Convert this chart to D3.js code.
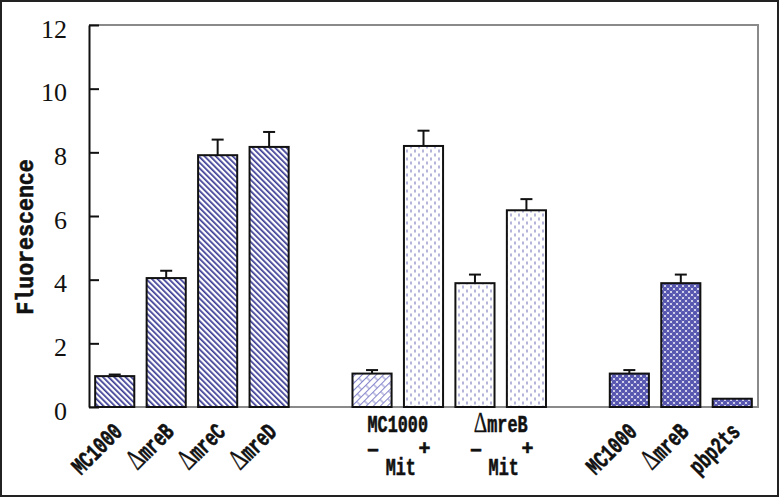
<!DOCTYPE html>
<html>
<head>
<meta charset="utf-8">
<script src="https://cdn.jsdelivr.net/npm/d3@7"></script>
<style>
body { margin: 0; background: #fff; }
svg { display: block; }
.lab { font-family: "Liberation Mono", "DejaVu Sans Mono", monospace; font-weight: bold; fill: #111; stroke: #111; stroke-width: 0.6px; }
.delta { font-family: "Liberation Serif", "DejaVu Serif", serif; font-weight: normal; stroke-width: 0.3px; }
.y.axis text { font-family: "Liberation Serif", "DejaVu Serif", serif; font-size: 26px; fill: #111; }
</style>
</head>
<body>
<div id="graph"></div>
<script>
// bars, left to right
const categories = ["MC1000", "ΔmreB", "ΔmreC", "ΔmreD",
	"MC1000 − Mit", "MC1000 + Mit", "ΔmreB − Mit", "ΔmreB + Mit",
	"MC1000 pbp", "ΔmreB pbp", "pbp2ts"];
const values = [0.97, 4.05, 7.91, 8.17, 1.05, 8.20, 3.89, 6.18, 1.05, 3.89, 0.26];
const errors = [0.05, 0.23, 0.49, 0.47, 0.11, 0.48, 0.27, 0.35, 0.11, 0.27, 0];
const groups = [0, 0, 0, 0, 1, 1, 1, 1, 2, 2, 2];
const fills = ["hatch", "hatch", "hatch", "hatch", "brick", "dash", "dash", "dash", "dots", "dots", "dots"];
// tick labels under the bars
const rotatedLabels = ["MC1000", "ΔmreB", "ΔmreC", "ΔmreD", null, null, null, null, "MC1000", "ΔmreB", "pbp2ts"];
const pairLabels = ["MC1000", "ΔmreB"];
const signs = ["−", "+"];
const treatment = "Mit";
const yTicks = [0, 2, 4, 6, 8, 10, 12];

const margin = {top: 25, right: 21, left: 89, bottom: 90};
const fullWidth = 779;
const fullHeight = 497;
const width = fullWidth - margin.left - margin.right;
const height = fullHeight - margin.top - margin.bottom;
const labelSize = "24px";
const squeeze = "scale(0.7,1)";

var root = d3.select("#graph")
	.append("svg")
	.attr("width", fullWidth)
	.attr("height", fullHeight);

// outer frame of the picture
root.append("rect")
	.attr("x", 1).attr("y", 1)
	.attr("width", fullWidth - 2).attr("height", fullHeight - 2)
	.attr("fill", "none").attr("stroke", "#222").attr("stroke-width", 2);

// fill patterns
var defs = root.append("defs");

var p = defs.append("pattern").attr("id", "hatch").attr("patternUnits", "userSpaceOnUse")
	.attr("width", 4).attr("height", 4).attr("patternTransform", "rotate(-45)");
p.append("rect").attr("width", 4).attr("height", 4).attr("fill", "#fff");
p.append("rect").attr("width", 1.7).attr("height", 4).attr("fill", "#3a3a94");

p = defs.append("pattern").attr("id", "brick").attr("patternUnits", "userSpaceOnUse")
	.attr("width", 12).attr("height", 10).attr("patternTransform", "rotate(-45)");
p.append("rect").attr("width", 12).attr("height", 10).attr("fill", "#fff");
p.append("path").attr("d", "M0,0.5H12M0,5.5H12M1,0.5V5.5M7,5.5V10")
	.attr("stroke", "#8686cc").attr("stroke-width", 1).attr("fill", "none");

p = defs.append("pattern").attr("id", "dash").attr("patternUnits", "userSpaceOnUse")
	.attr("width", 8).attr("height", 8);
p.append("rect").attr("width", 8).attr("height", 8).attr("fill", "#fff");
p.append("path").attr("d", "M2,0.5V3.5M6,4.5V7.5")
	.attr("stroke", "#8484c4").attr("stroke-width", 1.2);

p = defs.append("pattern").attr("id", "dots").attr("patternUnits", "userSpaceOnUse")
	.attr("width", 6).attr("height", 6);
p.append("rect").attr("width", 6).attr("height", 6).attr("fill", "#e6e6f6");
[[0, 0], [6, 0], [0, 6], [6, 6], [3, 3]].forEach(function (c) {
	p.append("circle").attr("cx", c[0]).attr("cy", c[1]).attr("r", 2.2).attr("fill", "#5656b0");
});

var svg = root.append("g")
	.attr("transform", "translate(" + margin.left + "," + margin.top + ")");

// 13 slots: 11 bars plus two empty gaps between the groups
var xScale = d3.scaleBand()
	.domain(d3.range(categories.length + 2))
	.range([0, width])
	.paddingInner(0.24)
	.paddingOuter(0.12);
var slot = (i) => xScale(i + groups[i]);
var bw = xScale.bandwidth();

var yScale = d3.scaleLinear().domain([0, 12]).range([height, 0]);

// top, right and bottom frame lines
svg.append("path")
	.attr("d", "M0," + yScale(12) + "H" + width + "V" + yScale(0) + "H0")
	.attr("fill", "none").attr("stroke", "#8a8a8a").attr("stroke-width", 2);

var yAxis = d3.axisLeft(yScale)
	.tickValues(yTicks)
	.tickSizeInner(-10)
	.tickSizeOuter(0)
	.tickPadding(22);

var ya = svg.append("g").classed("y axis", true).call(yAxis);
ya.select(".domain").attr("stroke", "#111").attr("stroke-width", 2);
ya.selectAll(".tick line").attr("stroke", "#111").attr("stroke-width", 2);
ya.selectAll(".tick text").attr("dy", "12px");

svg.append("text")
	.attr("class", "lab")
	.attr("transform", "translate(" + (33 - margin.left) + "," + (237 - margin.top) + ") rotate(-90) scale(0.9,1)")
	.attr("text-anchor", "middle")
	.style("font-size", "24px")
	.text("Fluorescence");

// bars
svg.append("g").selectAll("rect")
	.data(values)
	.enter().append("rect")
	.attr("x", (d, i) => slot(i))
	.attr("y", (d) => yScale(d))
	.attr("width", bw)
	.attr("height", (d) => yScale(0) - yScale(d))
	.attr("fill", (d, i) => "url(#" + fills[i] + ")")
	.attr("stroke", "#111")
	.attr("stroke-width", 2);

// error bars
var eb = svg.append("g").attr("stroke", "#111").attr("stroke-width", 2);
values.forEach(function (v, i) {
	if (!errors[i]) return;
	var cx = slot(i) + bw / 2;
	eb.append("line").attr("x1", cx).attr("x2", cx)
		.attr("y1", yScale(v)).attr("y2", yScale(v + errors[i]));
	eb.append("line").attr("x1", cx - 6).attr("x2", cx + 6)
		.attr("y1", yScale(v + errors[i])).attr("y2", yScale(v + errors[i]));
});

// text with a wide, thin delta like the original
function label(sel, t) {
	if (t.charAt(0) === "Δ") {
		sel.append("tspan").attr("class", "delta").style("font-size", "30px").text("Δ");
		sel.append("tspan").text(t.slice(1));
	} else {
		sel.text(t);
	}
	return sel;
}

// rotated labels
rotatedLabels.forEach(function (t, i) {
	if (!t) return;
	var cx = slot(i) + bw / 2 + 9;
	label(svg.append("text")
		.attr("class", "lab")
		.attr("text-anchor", "end")
		.attr("transform", "translate(" + cx + "," + (height + 26) + ") rotate(-45) " + squeeze)
		.style("font-size", labelSize), t);
});

// paired labels of the middle group
pairLabels.forEach(function (t, k) {
	var i0 = 4 + 2 * k;
	var c0 = slot(i0) + bw / 2, c1 = slot(i0 + 1) + bw / 2;
	var mid = (c0 + c1) / 2;
	label(svg.append("text").attr("class", "lab").attr("text-anchor", "middle")
		.attr("transform", "translate(" + mid + "," + (height + 25) + ") " + squeeze)
		.style("font-size", labelSize), t);
	[c0, c1].forEach(function (c, j) {
		svg.append("text").attr("class", "lab").attr("text-anchor", "middle")
			.attr("transform", "translate(" + (c + 1) + "," + (height + (j ? 48 : 50)) + ")")
			.style("font-size", "20px").text(signs[j]);
	});
	svg.append("text").attr("class", "lab").attr("text-anchor", "middle")
		.attr("transform", "translate(" + (mid + 3) + "," + (height + 68) + ") " + squeeze)
		.style("font-size", labelSize).text(treatment);
});
</script>
</body>
</html>
